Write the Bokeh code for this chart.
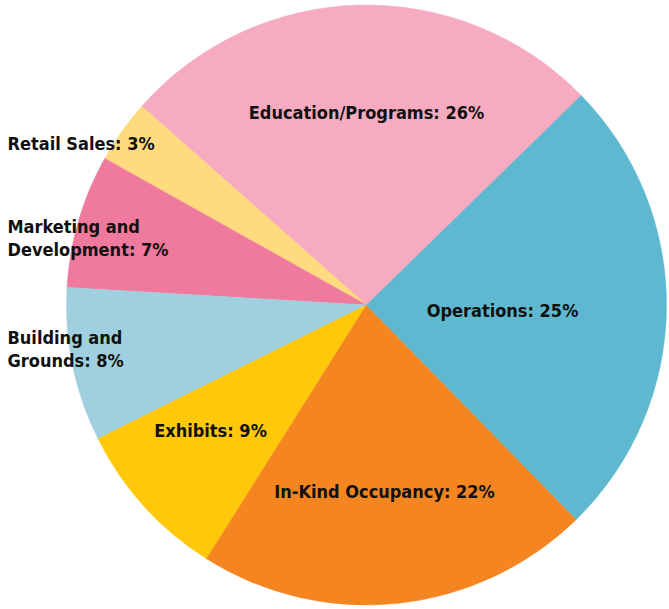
import numpy as np
from bokeh.plotting import figure
from bokeh.models import ColumnDataSource, Range1d
from bokeh.core.properties import value
from bokeh.embed import file_html
from bokeh.resources import INLINE

# Data (counter-clockwise order starting at the Education/Operations boundary)
categories = ["Education/Programs", "Retail Sales", "Marketing and\nDevelopment",
              "Building and\nGrounds", "Exhibits", "In-Kind Occupancy", "Operations"]
shares = [26.2, 3.4, 7.2, 8.3, 8.7, 21.3, 25.0]
pct_labels = ["26%", "3%", "7%", "8%", "9%", "22%", "25%"]
colors = ["#F6ABC0", "#FFDA7E", "#F07A9E", "#A0D0E0", "#FFC80B", "#F48521", "#5DB8D0"]

# layout: plot coords = reference pixel coords with y flipped (y = H - py)
W, H = 669, 609
cx, cy, R = 366, H - 304.5, 300
start_deg = 44.3

vals = np.array(shares, dtype=float)
frac = vals / vals.sum()
ends = np.deg2rad(start_deg) + np.cumsum(frac) * 2 * np.pi
starts = np.concatenate([[np.deg2rad(start_deg)], ends[:-1]])

src = ColumnDataSource(dict(start=starts, end=ends, color=colors))

p = figure(width=W, height=H, output_backend="svg", toolbar_location=None,
           x_range=Range1d(0, W), y_range=Range1d(0, H),
           x_axis_type=None, y_axis_type=None, min_border=0)
p.outline_line_color = None
p.grid.visible = False
p.background_fill_color = "white"

p.wedge(x=cx, y=cy, radius=R, start_angle="start", end_angle="end",
        direction="anticlock", fill_color="color", line_color="color",
        line_width=0.5, source=src)

# label anchors (reference pixel coords) and alignment
lab_px = [366, 7, 7, 7, 210, 384, 502]
lab_py = [112, 143, 237.5, 348.5, 430, 491, 310]
lab_align = ["center", "left", "left", "left", "center", "center", "center"]
texts = [f"{c}: {l}" for c, l in zip(categories, pct_labels)]

lsrc = ColumnDataSource(dict(x=lab_px, y=[H - v for v in lab_py], t=texts, a=lab_align))
p.text(x="x", y="y", text="t", text_align="a", text_baseline="middle",
       text_font=value("DejaVu Sans Condensed"),
       text_font_style="bold", text_font_size="18px", text_color="#111111",
       text_line_height=1.1, source=lsrc)

open("out.html", "w").write(file_html(p, INLINE))
